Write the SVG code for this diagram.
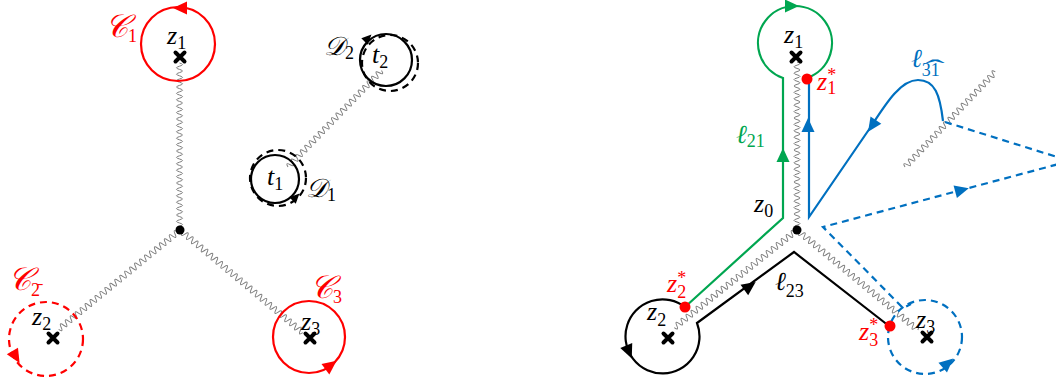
<svg xmlns="http://www.w3.org/2000/svg" width="1056" height="379" viewBox="0 0 1056 379">
<style>
.w{fill:none;stroke:#7d7d7d;stroke-width:1}
.c{fill:none;stroke-width:2.2}
.dash{stroke-dasharray:7,5}
.t{font-family:"Liberation Serif","DejaVu Serif",serif;font-style:italic;font-size:26px}
.s{font-family:"Liberation Serif","DejaVu Serif",serif;font-style:normal;font-size:18px}
.cal{font-family:"DejaVu Serif","DejaVu Sans","Noto Sans","Liberation Serif",serif;font-style:italic;font-size:32px}
.red{fill:#f00}
.grn{fill:#00a650}
.blu{fill:#0070c0}
</style>
<defs>
<path id="W52" class="w" d="M0,0 q1.6,-6 3.2,0 t3.2,0 t3.2,0 t3.2,0 t3.2,0 t3.2,0 t3.2,0 t3.2,0 t3.2,0 t3.2,0 t3.2,0 t3.2,0 t3.2,0 t3.2,0 t3.2,0 t3.2,0 t3.2,0 t3.2,0 t3.2,0 t3.2,0 t3.2,0 t3.2,0 t3.2,0 t3.2,0 t3.2,0 t3.2,0 t3.2,0 t3.2,0 t3.2,0 t3.2,0 t3.2,0 t3.2,0 t3.2,0 t3.2,0 t3.2,0 t3.2,0 t3.2,0 t3.2,0 t3.2,0 t3.2,0 t3.2,0 t3.2,0 t3.2,0 t3.2,0 t3.2,0 t3.2,0 t3.2,0 t3.2,0 t3.2,0 t3.2,0 t3.2,0 t3.2,0"/>
<path id="W50" class="w" d="M0,0 q1.6,-6 3.2,0 t3.2,0 t3.2,0 t3.2,0 t3.2,0 t3.2,0 t3.2,0 t3.2,0 t3.2,0 t3.2,0 t3.2,0 t3.2,0 t3.2,0 t3.2,0 t3.2,0 t3.2,0 t3.2,0 t3.2,0 t3.2,0 t3.2,0 t3.2,0 t3.2,0 t3.2,0 t3.2,0 t3.2,0 t3.2,0 t3.2,0 t3.2,0 t3.2,0 t3.2,0 t3.2,0 t3.2,0 t3.2,0 t3.2,0 t3.2,0 t3.2,0 t3.2,0 t3.2,0 t3.2,0 t3.2,0 t3.2,0 t3.2,0 t3.2,0 t3.2,0 t3.2,0 t3.2,0 t3.2,0 t3.2,0 t3.2,0 t3.2,0"/>
<path id="W49" class="w" d="M0,0 q1.6,-6 3.2,0 t3.2,0 t3.2,0 t3.2,0 t3.2,0 t3.2,0 t3.2,0 t3.2,0 t3.2,0 t3.2,0 t3.2,0 t3.2,0 t3.2,0 t3.2,0 t3.2,0 t3.2,0 t3.2,0 t3.2,0 t3.2,0 t3.2,0 t3.2,0 t3.2,0 t3.2,0 t3.2,0 t3.2,0 t3.2,0 t3.2,0 t3.2,0 t3.2,0 t3.2,0 t3.2,0 t3.2,0 t3.2,0 t3.2,0 t3.2,0 t3.2,0 t3.2,0 t3.2,0 t3.2,0 t3.2,0 t3.2,0 t3.2,0 t3.2,0 t3.2,0 t3.2,0 t3.2,0 t3.2,0 t3.2,0 t3.2,0"/>
<path id="W42" class="w" d="M0,0 q1.6,-6 3.2,0 t3.2,0 t3.2,0 t3.2,0 t3.2,0 t3.2,0 t3.2,0 t3.2,0 t3.2,0 t3.2,0 t3.2,0 t3.2,0 t3.2,0 t3.2,0 t3.2,0 t3.2,0 t3.2,0 t3.2,0 t3.2,0 t3.2,0 t3.2,0 t3.2,0 t3.2,0 t3.2,0 t3.2,0 t3.2,0 t3.2,0 t3.2,0 t3.2,0 t3.2,0 t3.2,0 t3.2,0 t3.2,0 t3.2,0 t3.2,0 t3.2,0 t3.2,0 t3.2,0 t3.2,0 t3.2,0 t3.2,0 t3.2,0"/>
<path id="W41" class="w" d="M0,0 q1.6,-6 3.2,0 t3.2,0 t3.2,0 t3.2,0 t3.2,0 t3.2,0 t3.2,0 t3.2,0 t3.2,0 t3.2,0 t3.2,0 t3.2,0 t3.2,0 t3.2,0 t3.2,0 t3.2,0 t3.2,0 t3.2,0 t3.2,0 t3.2,0 t3.2,0 t3.2,0 t3.2,0 t3.2,0 t3.2,0 t3.2,0 t3.2,0 t3.2,0 t3.2,0 t3.2,0 t3.2,0 t3.2,0 t3.2,0 t3.2,0 t3.2,0 t3.2,0 t3.2,0 t3.2,0 t3.2,0 t3.2,0 t3.2,0"/>
<path id="ah" d="M7,0 L-7,-6.5 L-7,6.5 Z"/>
<path id="x" d="M-4.5,-4.5 L4.5,4.5 M-4.5,4.5 L4.5,-4.5" fill="none" stroke="#000" stroke-width="4" stroke-linecap="round"/>
</defs>

<g id="connectors">
  <!-- left branch cuts -->
  <use href="#W52" transform="translate(179.5,63) rotate(90)"/>
  <use href="#W49" transform="translate(180,230) rotate(140.7)"/>
  <use href="#W50" transform="translate(180,230) rotate(39.9)"/>
  <use href="#W42" transform="translate(288,167) rotate(-45.9)"/>
  <!-- right branch cuts -->
  <use href="#W52" transform="translate(797,62) rotate(90)"/>
  <use href="#W49" transform="translate(797,230) rotate(141.5)"/>
  <use href="#W49" transform="translate(797,230) rotate(39.6)"/>
  <use href="#W41" transform="translate(905,167) rotate(-46.5)"/>

  <!-- left contours -->
  <circle cx="178" cy="44" r="37" class="c" stroke="#f00"/>
  <use href="#ah" class="red" transform="translate(180,8) rotate(180)"/>
  <circle cx="46" cy="339" r="37" class="c dash" stroke="#f00"/>
  <use href="#ah" class="red" transform="translate(16,357) rotate(59)"/>
  <circle cx="309" cy="337" r="36" class="c" stroke="#f00"/>
  <use href="#ah" class="red" transform="translate(331,365) rotate(-37)"/>
  <circle cx="275" cy="179" r="24" class="c" stroke="#000"/>
  <circle cx="278" cy="178" r="28" class="c dash" stroke="#000" stroke-dasharray="6,4"/>
  <use href="#ah" transform="translate(296,197) rotate(-45) scale(0.7)"/>
  <circle cx="386" cy="60" r="26" class="c" stroke="#000"/>
  <circle cx="390" cy="63" r="28" class="c dash" stroke="#000" stroke-dasharray="6,4"/>
  <use href="#ah" transform="translate(368,38) rotate(-45) scale(0.7)"/>

  <!-- right contours -->
  <path d="M685,307 L783,218 L783,78 A37,37 0 1,1 807,78" class="c" stroke="#00a650"/>
  <use href="#ah" class="grn" transform="translate(792,6) rotate(0)"/>
  <use href="#ah" class="grn" transform="translate(783,155) rotate(-90)"/>
  <path d="M943,121 C940,95 935,80 918,80 C900,80 885,105 870,128 L809,217 L809,79" class="c" stroke="#0070c0"/>
  <use href="#ah" class="blu" transform="translate(872,126) rotate(124)"/>
  <use href="#ah" class="blu" transform="translate(808,125) rotate(-90)"/>
  <path d="M945,122 L1070,161 L823,227 L903,308 L911,304" class="c dash" stroke="#0070c0"/>
  <circle cx="925" cy="337" r="37" class="c dash" stroke="#0070c0"/>
  <use href="#ah" class="blu" transform="translate(962,190) rotate(-15)"/>
  <use href="#ah" class="blu" transform="translate(948,363) rotate(-41)"/>
  <path d="M685,307 A37,37 0 1,0 697,323 L794,252 L889,326" class="c" stroke="#000"/>
  <use href="#ah" transform="translate(629,352) rotate(67)"/>
  <use href="#ah" transform="translate(750,286) rotate(-36)"/>
</g>

<!-- left panel nodes -->
<g id="L-z1">
  <use href="#x" transform="translate(180,57)"/>
  <text class="t" x="167" y="44">z<tspan class="s" dy="5">1</tspan></text>
  <text class="cal" x="105" y="37" fill="#f00">𝒞<tspan class="s" dy="5">1</tspan></text>
</g>
<g id="L-z0"><circle cx="180" cy="230" r="4.5"/></g>
<g id="L-z2">
  <use href="#x" transform="translate(53,338)"/>
  <text class="t" x="32" y="325">z<tspan class="s" dy="5">2</tspan></text>
  <text class="cal" x="8" y="290" fill="#f00">𝒞<tspan class="s" dy="6">2̄</tspan></text>
</g>
<g id="L-z3">
  <use href="#x" transform="translate(310,338)"/>
  <text class="t" x="301" y="330">z<tspan class="s" dy="5">3</tspan></text>
  <text class="cal" x="310" y="298" fill="#f00">𝒞<tspan class="s" dy="5">3</tspan></text>
</g>
<g id="L-t1">
  <text class="t" x="267" y="185">t<tspan class="s" dy="5">1</tspan></text>
  <text class="cal" x="306" y="197" style="font-size:26px">𝒟<tspan class="s" dy="4">1</tspan></text>
</g>
<g id="L-t2">
  <text class="t" x="372" y="63">t<tspan class="s" dy="5">2</tspan></text>
  <text class="cal" x="324" y="55" style="font-size:26px">𝒟<tspan class="s" dy="4">2</tspan></text>
</g>

<!-- right panel nodes -->
<g id="R-z1">
  <use href="#x" transform="translate(796,57)"/>
  <text class="t" x="784" y="43">z<tspan class="s" dy="5">1</tspan></text>
</g>
<g id="R-z1s">
  <circle cx="807" cy="79" r="5.5" fill="#f00"/>
  <text class="t" x="817" y="90" fill="#f00">z<tspan class="s" dy="-9">*</tspan><tspan class="s" dx="-9" dy="13">1</tspan></text>
</g>
<g id="R-l21">
  <text class="t" x="736" y="143" fill="#00a650">ℓ<tspan class="s" dy="4">21</tspan></text>
</g>
<g id="R-l31">
  <text class="t" x="911" y="67" fill="#0070c0">ℓ<tspan class="s" dy="9">31</tspan></text>
  <text class="s" x="0" y="0" fill="#0070c0" text-anchor="middle" transform="translate(935,76) scale(2.4,1)" style="font-size:24px">ˆ</text>
</g>
<g id="R-z0">
  <circle cx="797" cy="230" r="4.5"/>
  <text class="t" x="754" y="212">z<tspan class="s" dy="5">0</tspan></text>
</g>
<g id="R-z2s">
  <circle cx="685" cy="307" r="5.5" fill="#f00"/>
  <text class="t" x="667" y="292" fill="#f00">z<tspan class="s" dy="-8">*</tspan><tspan class="s" dx="-9" dy="14">2</tspan></text>
</g>
<g id="R-z2">
  <use href="#x" transform="translate(668,338)"/>
  <text class="t" x="647" y="320">z<tspan class="s" dy="6">2</tspan></text>
</g>
<g id="R-l23">
  <text class="t" x="775" y="290">ℓ<tspan class="s" dy="7">23</tspan></text>
</g>
<g id="R-z3s">
  <circle cx="890" cy="326" r="5.5" fill="#f00"/>
  <text class="t" x="859" y="340" fill="#f00">z<tspan class="s" dy="-9">*</tspan><tspan class="s" dx="-9" dy="15">3</tspan></text>
</g>
<g id="R-z3">
  <use href="#x" transform="translate(927,337)"/>
  <text class="t" x="916" y="328">z<tspan class="s" dy="5">3</tspan></text>
</g>
</svg>
